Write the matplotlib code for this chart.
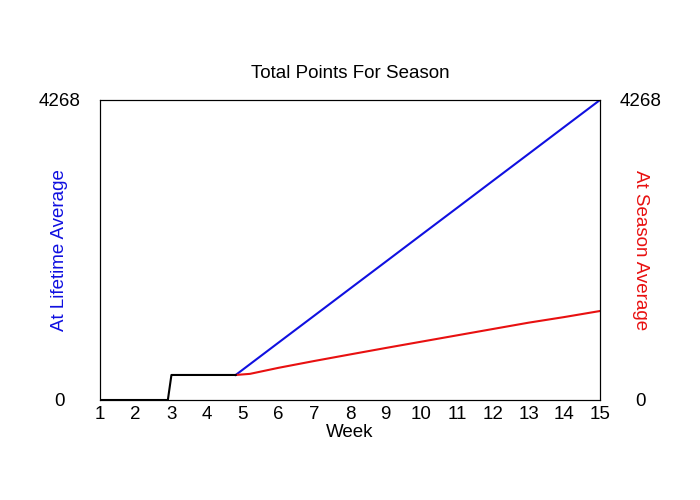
import matplotlib
matplotlib.use("Agg")
import matplotlib.pyplot as plt

plt.rcParams['font.family'] = ['Liberation Sans', 'DejaVu Sans']

# points so far (black part, shared by both)
start_weeks = [1, 2.9, 3.0, 4.8]
start_pts = [0, 0, 356, 356]

# projection at lifetime average
life_weeks = [4.8, 5, 6, 7, 8, 9, 10, 11, 12, 13, 14, 15]
life_pts = [356, 433, 817, 1200, 1584, 1967, 2351, 2734, 3118, 3501, 3885, 4268]

# projection at season average
season_weeks = [4.8, 5.2, 6, 7, 8, 9, 10, 11, 12, 13, 14, 15]
season_pts = [356, 372, 458, 555, 648, 740, 830, 920, 1010, 1100, 1180, 1266]

ymax = 4268
week_ticks = list(range(1, 16))

fig = plt.figure(figsize=(7, 5), dpi=100)
ax = fig.add_axes([100 / 700, 100 / 500, 500 / 700, 300 / 500])
ax2 = ax.twinx()

ax.plot(life_weeks, life_pts, color='#1010e0', lw=1.5)
ax.plot(season_weeks, season_pts, color='#e81010', lw=1.5)
ax.plot(start_weeks, start_pts, color='black', lw=1.5)

ax.set_xlim(1, 15)
ax.set_ylim(0, ymax)
ax2.set_ylim(0, ymax)
ax.set_xticks(week_ticks)
ax.set_yticks([0, ymax])
ax2.set_yticks([0, ymax])

fs = 13.5
ax.tick_params(axis='x', length=0, pad=4, labelsize=fs)
ax.tick_params(axis='y', length=0, pad=29, labelsize=fs)
ax2.tick_params(axis='y', length=0, pad=29, labelsize=fs)
for lab in ax.get_yticklabels():
    lab.set_horizontalalignment('center')
for lab in ax2.get_yticklabels():
    lab.set_horizontalalignment('center')

ax.set_title('Total Points For Season', fontsize=13.5, pad=16)
ax.set_xlabel('Week', fontsize=fs, labelpad=1)
ax.set_ylabel('At Lifetime Average', color='#1010e0', fontsize=fs)
ax.yaxis.set_label_coords(-0.08, 0.5)
ax2.set_ylabel('At Season Average', color='#e81010', fontsize=fs, rotation=270)
ax2.yaxis.set_label_coords(1.08, 0.5)
ax2.yaxis.label.set_verticalalignment('center')
ax.yaxis.label.set_verticalalignment('center')

fig.savefig('out.png', dpi=100)
